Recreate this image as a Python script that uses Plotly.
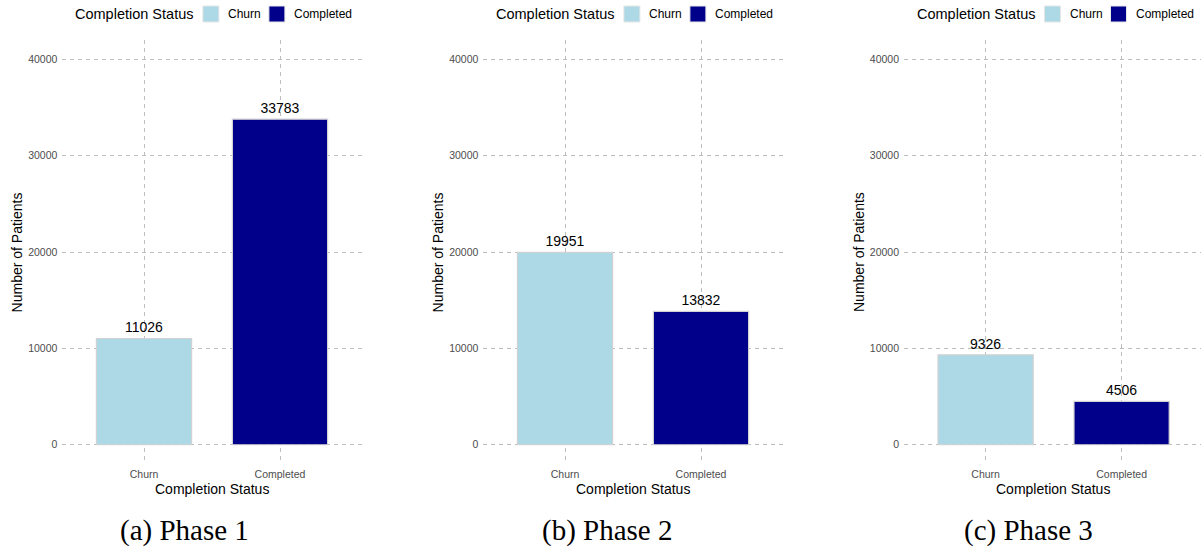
import plotly.graph_objects as go

# Patients by completion status in each trial phase
categories = ["Churn", "Completed"]
phase_names = ["(a) Phase 1", "(b) Phase 2", "(c) Phase 3"]
phase1_counts = [11026, 33783]
phase2_counts = [19951, 13832]
phase3_counts = [9326, 4506]
y_ticks = [0, 10000, 20000, 30000, 40000]

bar_colors = ["#ADD8E6", "#00008B"]

W, H = 1201, 550
panel_px = [(62.4, 361.6), (483.4, 782.6), (904.0, 1201.0)]
plot_top, plot_bottom = 40, 464
caption_x = [184, 606.5, 1028.5]

fig = go.Figure()
all_counts = [phase1_counts, phase2_counts, phase3_counts]

grid_color = "#bdbdbd"
tick_font = dict(family="Liberation Sans, Arial", size=10.5, color="#4d4d4d")

for i, counts in enumerate(all_counts):
    n = "" if i == 0 else str(i + 1)
    left, right = panel_px[i]
    fig.add_trace(go.Bar(
        x=categories, y=counts,
        xaxis="x" + n, yaxis="y" + n,
        width=0.7,
        marker=dict(color=bar_colors, line=dict(color="#d2d2d2", width=1.2)),
        text=[str(v) for v in counts],
        textposition="outside",
        textfont=dict(family="Liberation Sans, Arial", size=14, color="black"),
        cliponaxis=False,
        showlegend=False,
    ))
    px_per_unit = 136.0
    x_range = [-0.6, -0.6 + (right - left) / px_per_unit]
    fig.update_layout({
        "xaxis" + n: dict(
            domain=[left / W, right / W], anchor="y" + n,
            range=x_range, type="category",
            showgrid=True, gridcolor=grid_color, griddash="4px,4px", gridwidth=1.2,
            zeroline=False, showline=False, ticks="",
            tickfont=tick_font, ticklabelstandoff=2,
        ),
        "yaxis" + n: dict(
            domain=[(H - plot_bottom) / H, (H - plot_top) / H], anchor="x" + n,
            range=[-2000, 42000],
            tickvals=y_ticks, ticktext=[str(v) for v in y_ticks],
            showgrid=True, gridcolor=grid_color, griddash="4px,4px", gridwidth=1.2,
            zeroline=False, showline=False, ticks="",
            tickfont=tick_font, ticklabelstandoff=4,
        ),
    })

    # axis titles
    fig.add_annotation(
        x=(left + right) / 2 / W, y=(H - 489) / H, xref="paper", yref="paper",
        text="Completion Status", showarrow=False,
        font=dict(family="Liberation Sans, Arial", size=14, color="black"),
        xanchor="center", yanchor="middle",
    )
    fig.add_annotation(
        x=(left - 45) / W, y=(H - 252) / H, xref="paper", yref="paper",
        text="Number of Patients", showarrow=False, textangle=-90,
        font=dict(family="Liberation Sans, Arial", size=14, color="black"),
        xanchor="center", yanchor="middle",
    )
    # caption
    fig.add_annotation(
        x=caption_x[i] / W, y=(H - 530) / H, xref="paper", yref="paper",
        text=phase_names[i], showarrow=False,
        font=dict(family="Liberation Serif, Times New Roman", size=29, color="black"),
        xanchor="center", yanchor="middle",
    )

    # legend drawn above each panel
    lx = left + 10.5
    fig.add_annotation(
        x=lx / W, y=(H - 14) / H, xref="paper", yref="paper",
        text="Completion Status", showarrow=False,
        font=dict(family="Liberation Sans, Arial", size=14.5, color="black"),
        xanchor="left", yanchor="middle",
    )
    box_x = [lx + 130, lx + 196]
    for j, cat in enumerate(categories):
        bx = box_x[j]
        fig.add_shape(
            type="rect", xref="paper", yref="paper",
            x0=bx / W, x1=(bx + 16) / W, y0=(H - 22) / H, y1=(H - 6) / H,
            fillcolor=bar_colors[j], line=dict(color="#e6e6e6", width=1),
        )
        fig.add_annotation(
            x=(bx + 23) / W, y=(H - 14) / H, xref="paper", yref="paper",
            text=cat, showarrow=False,
            font=dict(family="Liberation Sans, Arial", size=12, color="black"),
            xanchor="left", yanchor="middle",
        )

fig.update_layout(
    width=W, height=H,
    margin=dict(l=0, r=0, t=0, b=0),
    paper_bgcolor="white", plot_bgcolor="white",
    showlegend=False,
)

fig.write_html("out.html")
